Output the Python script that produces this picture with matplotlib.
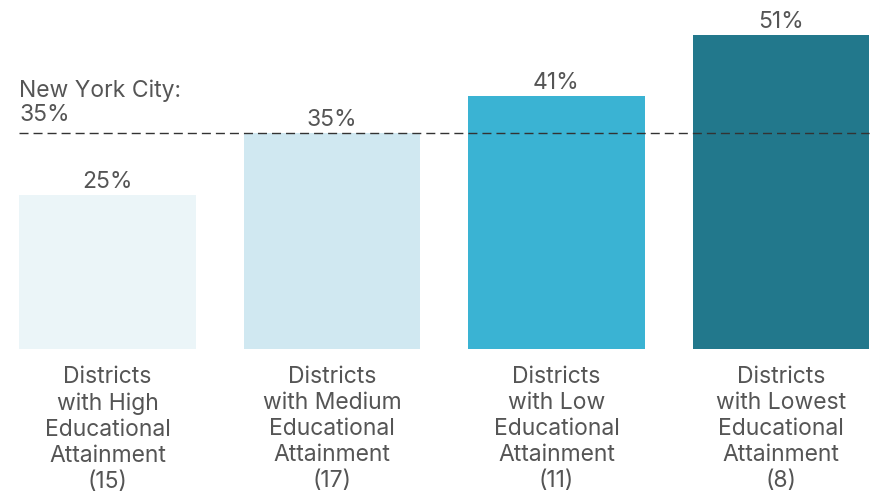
import matplotlib
matplotlib.use("Agg")
import matplotlib.pyplot as plt

categories = [
    "Districts\nwith High\nEducational\nAttainment\n(15)",
    "Districts\nwith Medium\nEducational\nAttainment\n(17)",
    "Districts\nwith Low\nEducational\nAttainment\n(11)",
    "Districts\nwith Lowest\nEducational\nAttainment\n(8)",
]
values = [25, 35, 41, 51]
colors = ["#ebf5f8", "#d0e8f1", "#3ab3d3", "#22788c"]
nyc_value = 35

plt.rcParams["font.family"] = ["Inter", "DejaVu Sans"]
text_color = "#555555"

fig = plt.figure(figsize=(8.73, 4.93), dpi=100)
ax = fig.add_axes([0, 0, 1, 1])

x = range(len(values))
ax.bar(x, values, width=0.788, color=colors, zorder=1)

# px per unit: 224.5 in x, 6.16 in y
ax.set_xlim(-107.5 / 224.5, (873 - 107.5) / 224.5)
ax.set_ylim(-144 / 6.16, (493 - 144) / 6.16)
ax.axis("off")

ax.hlines(nyc_value, -0.394, len(values) - 1 + 0.394, colors="#333333",
          linewidth=1.0, linestyles=(0, (6.5, 3.6)), zorder=3)
ax.text(-0.394, nyc_value + 1.2, f"New York City:\n{nyc_value}%", ha="left", va="bottom",
        fontsize=16.5, color=text_color, linespacing=1.1)

for i, v in enumerate(values):
    ax.text(i, v + 0.35, f"{v}%", ha="center", va="bottom", fontsize=16.5, color=text_color)
    ax.text(i, -2.75, categories[i], ha="center", va="top", fontsize=16.5,
            color=text_color, linespacing=1.24)

fig.savefig("out.png", dpi=100)
